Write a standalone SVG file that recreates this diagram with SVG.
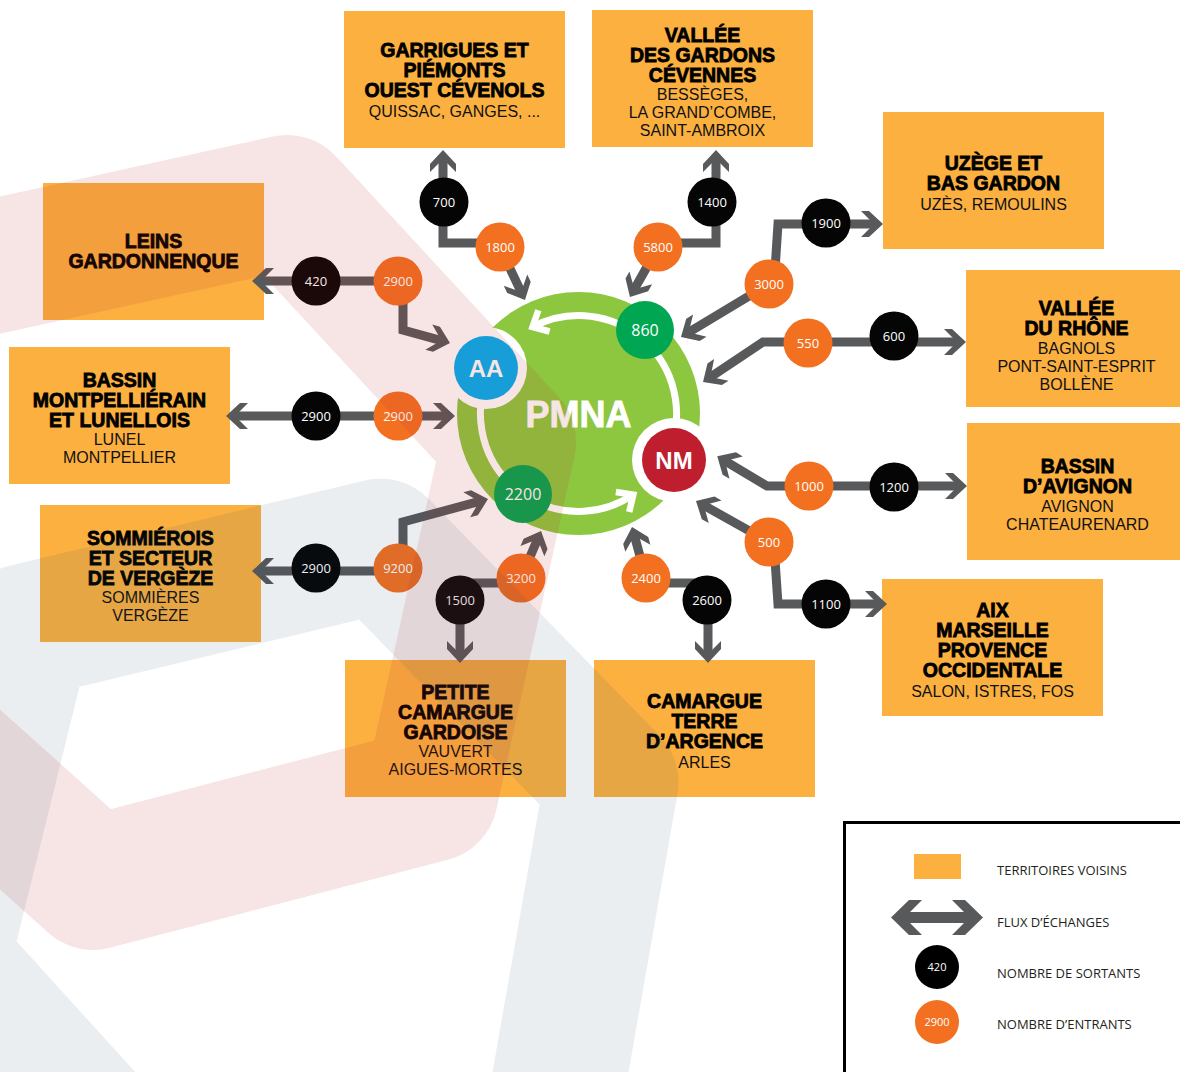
<svg xmlns="http://www.w3.org/2000/svg" width="1180" height="1072" viewBox="0 0 1180 1072">
<style>
.box{fill:#fbb040}
.t{font-family:"Liberation Sans",Arial,sans-serif;font-weight:700;font-size:19.5px;fill:#000;stroke:#000;stroke-width:0.8px;text-anchor:middle}
.s{font-family:"Liberation Sans",Arial,sans-serif;font-size:16px;fill:#111;text-anchor:middle}
.blk{fill:#050505}
.org{fill:#f37021}
.n{font-family:"Open Sans","Liberation Sans",sans-serif;font-size:13px;fill:#fff;text-anchor:middle}
.c{fill:none;stroke:#58595b;stroke-width:9}
.ring{fill:none;stroke:#fff;stroke-width:7}
.lg{font-family:"Open Sans","Liberation Sans",sans-serif;font-size:13px;fill:#231f20}
</style>
<defs>
<marker id="ah" markerUnits="userSpaceOnUse" orient="auto-start-reverse" refX="-6" refY="0" markerWidth="40" markerHeight="40" overflow="visible">
<path d="M0,0 L-14,-13 L-22,-13 L-9,0 L-22,13 L-14,13 Z" fill="#58595b"/>
</marker>
<marker id="wa" markerUnits="userSpaceOnUse" orient="auto" refX="0" refY="0" markerWidth="40" markerHeight="40" overflow="visible">
<path d="M-13,-12 L0,0 L-13,12" fill="none" stroke="#fff" stroke-width="6.5"/>
</marker>
</defs>
<rect x="0" y="0" width="1180" height="1072" fill="#fff"/>

<g id="garrigues"><rect class="box" x="344" y="11" width="221" height="137"/>
<text class="t" x="454.5" y="57">GARRIGUES ET</text><text class="t" x="454.5" y="77">PIÉMONTS</text><text class="t" x="454.5" y="97">OUEST CÉVENOLS</text><text class="s" x="454.5" y="117">QUISSAC, GANGES, ...</text></g>
<g id="gardons"><rect class="box" x="592" y="10" width="221" height="137"/>
<text class="t" x="702.5" y="42">VALLÉE</text><text class="t" x="702.5" y="62">DES GARDONS</text><text class="t" x="702.5" y="82">CÉVENNES</text><text class="s" x="702.5" y="100">BESSÈGES,</text><text class="s" x="702.5" y="118">LA GRAND’COMBE,</text><text class="s" x="702.5" y="136">SAINT-AMBROIX</text></g>
<g id="uzege"><rect class="box" x="883" y="112" width="221" height="137"/>
<text class="t" x="993.5" y="170">UZÈGE ET</text><text class="t" x="993.5" y="190">BAS GARDON</text><text class="s" x="993.5" y="210">UZÈS, REMOULINS</text></g>
<g id="rhone"><rect class="box" x="966" y="270" width="221" height="137"/>
<text class="t" x="1076.5" y="315">VALLÉE</text><text class="t" x="1076.5" y="335">DU RHÔNE</text><text class="s" x="1076.5" y="354">BAGNOLS</text><text class="s" x="1076.5" y="372">PONT-SAINT-ESPRIT</text><text class="s" x="1076.5" y="390">BOLLÈNE</text></g>
<g id="avignon"><rect class="box" x="967" y="423" width="221" height="137"/>
<text class="t" x="1077.5" y="473">BASSIN</text><text class="t" x="1077.5" y="493">D’AVIGNON</text><text class="s" x="1077.5" y="512">AVIGNON</text><text class="s" x="1077.5" y="530">CHATEAURENARD</text></g>
<g id="aix"><rect class="box" x="882" y="579" width="221" height="137"/>
<text class="t" x="992.5" y="617">AIX</text><text class="t" x="992.5" y="637">MARSEILLE</text><text class="t" x="992.5" y="657">PROVENCE</text><text class="t" x="992.5" y="677">OCCIDENTALE</text><text class="s" x="992.5" y="697">SALON, ISTRES, FOS</text></g>
<g id="terre"><rect class="box" x="594" y="660" width="221" height="137"/>
<text class="t" x="704.5" y="708">CAMARGUE</text><text class="t" x="704.5" y="728">TERRE</text><text class="t" x="704.5" y="748">D’ARGENCE</text><text class="s" x="704.5" y="768">ARLES</text></g>
<g id="petite"><rect class="box" x="345" y="660" width="221" height="137"/>
<text class="t" x="455.5" y="699">PETITE</text><text class="t" x="455.5" y="719">CAMARGUE</text><text class="t" x="455.5" y="739">GARDOISE</text><text class="s" x="455.5" y="757">VAUVERT</text><text class="s" x="455.5" y="775">AIGUES-MORTES</text></g>
<g id="sommierois"><rect class="box" x="40" y="505" width="221" height="137"/>
<text class="t" x="150.5" y="545">SOMMIÉROIS</text><text class="t" x="150.5" y="565">ET SECTEUR</text><text class="t" x="150.5" y="585">DE VERGÈZE</text><text class="s" x="150.5" y="603">SOMMIÈRES</text><text class="s" x="150.5" y="621">VERGÈZE</text></g>
<g id="montpellier"><rect class="box" x="9" y="347" width="221" height="137"/>
<text class="t" x="119.5" y="387">BASSIN</text><text class="t" x="119.5" y="407">MONTPELLIÉRAIN</text><text class="t" x="119.5" y="427">ET LUNELLOIS</text><text class="s" x="119.5" y="445">LUNEL</text><text class="s" x="119.5" y="463">MONTPELLIER</text></g>
<g id="leins"><rect class="box" x="43" y="183" width="221" height="137"/>
<text class="t" x="153.5" y="248">LEINS</text><text class="t" x="153.5" y="268">GARDONNENQUE</text></g>

<g id="connectors">
<path class="c" d="M398,281 H258" marker-end="url(#ah)"/>
<path class="c" d="M403,295 V330 L444.2,341.4" marker-end="url(#ah)"/>
<path class="c" d="M500,243 H443 V156" marker-end="url(#ah)"/>
<path class="c" d="M505,258 L522.4,294.6" marker-end="url(#ah)"/>
<path class="c" d="M658,243 H716 V156" marker-end="url(#ah)"/>
<path class="c" d="M652,258 L632.9,291.8" marker-end="url(#ah)"/>
<path class="c" d="M775,270 L778,224 H877" marker-end="url(#ah)"/>
<path class="c" d="M769,284 L686.1,333.9" marker-end="url(#ah)"/>
<path class="c" d="M808,342 H960" marker-end="url(#ah)"/>
<path class="c" d="M808,342 H763 L708,378.7" marker-end="url(#ah)"/>
<path class="c" d="M809,486 H961" marker-end="url(#ah)"/>
<path class="c" d="M809,486 H767 L722.4,459.4" marker-end="url(#ah)"/>
<path class="c" d="M775,560 L778,604 H881" marker-end="url(#ah)"/>
<path class="c" d="M769,542 L701.2,503.9" marker-end="url(#ah)"/>
<path class="c" d="M646,583 H708 V657" marker-end="url(#ah)"/>
<path class="c" d="M646,578 L633.6,532.8" marker-end="url(#ah)"/>
<path class="c" d="M521,583 H460 V657" marker-end="url(#ah)"/>
<path class="c" d="M521,578 L538.7,536.5" marker-end="url(#ah)"/>
<path class="c" d="M398,571 H258" marker-end="url(#ah)"/>
<path class="c" d="M403,560 V522 L482.2,500.6" marker-end="url(#ah)"/>
<path class="c" d="M232,416 H449" marker-start="url(#ah)" marker-end="url(#ah)"/>
</g>

<g id="pmna">
<circle cx="578.5" cy="413.5" r="121.5" fill="#8dc63f"/>
<path class="ring" d="M634.7,333.2 A98,98 0 0 0 532.5,327" marker-end="url(#wa)"/>
<path class="ring" d="M532.5,500 A98,98 0 0 0 633.3,494.7" marker-end="url(#wa)"/>
<path class="ring" d="M644.1,340.7 A98,98 0 0 1 669.4,450.2"/>
<path class="ring" d="M493.6,364.5 A98,98 0 0 0 515.5,488.6"/>
<text x="578.5" y="427" text-anchor="middle" font-family="Liberation Sans,Arial,sans-serif" font-weight="700" font-size="36" fill="#fff" stroke="#fff" stroke-width="0.8">PMNA</text>
</g>
<g id="aa"><circle cx="486" cy="368" r="41" fill="#fff"/><circle cx="486" cy="368" r="32" fill="#00aeef"/><text x="486" y="377" text-anchor="middle" font-family="Liberation Sans,Arial,sans-serif" font-weight="700" font-size="24" fill="#fff">AA</text></g>
<g id="nm"><circle cx="674" cy="460" r="42" fill="#fff"/><circle cx="674" cy="460" r="32" fill="#be1e2d"/><text x="674" y="469" text-anchor="middle" font-family="Liberation Sans,Arial,sans-serif" font-weight="700" font-size="24" fill="#fff">NM</text></g>
<g id="n860"><circle cx="645" cy="330" r="29" fill="#00a651"/><text x="645" y="335.5" text-anchor="middle" font-family="Open Sans,Liberation Sans,sans-serif" font-size="16" fill="#fff">860</text></g>
<g id="n2200"><circle cx="523" cy="494" r="29" fill="#00a651"/><text x="523" y="499.5" text-anchor="middle" font-family="Open Sans,Liberation Sans,sans-serif" font-size="16" fill="#fff">2200</text></g>

<g id="counts">
<g id="c700"><circle class="blk" cx="444" cy="202" r="24.5"/><text class="n" x="444" y="206.6">700</text></g>
<g id="c1800"><circle class="org" cx="500" cy="247" r="24.5"/><text class="n" x="500" y="251.6">1800</text></g>
<g id="c1400"><circle class="blk" cx="712" cy="202" r="24.5"/><text class="n" x="712" y="206.6">1400</text></g>
<g id="c5800"><circle class="org" cx="658" cy="247" r="24.5"/><text class="n" x="658" y="251.6">5800</text></g>
<g id="c420"><circle class="blk" cx="316" cy="281" r="24.5"/><text class="n" x="316" y="285.6">420</text></g>
<g id="c2900a"><circle class="org" cx="398" cy="281" r="24.5"/><text class="n" x="398" y="285.6">2900</text></g>
<g id="c1900"><circle class="blk" cx="826" cy="223" r="24.5"/><text class="n" x="826" y="227.6">1900</text></g>
<g id="c3000"><circle class="org" cx="769" cy="284" r="24.5"/><text class="n" x="769" y="288.6">3000</text></g>
<g id="c550"><circle class="org" cx="808" cy="343" r="24.5"/><text class="n" x="808" y="347.6">550</text></g>
<g id="c600"><circle class="blk" cx="894" cy="336" r="24.5"/><text class="n" x="894" y="340.6">600</text></g>
<g id="c2900b"><circle class="blk" cx="316" cy="416" r="24.5"/><text class="n" x="316" y="420.6">2900</text></g>
<g id="c2900c"><circle class="org" cx="398" cy="416" r="24.5"/><text class="n" x="398" y="420.6">2900</text></g>
<g id="c1000"><circle class="org" cx="809" cy="486" r="24.5"/><text class="n" x="809" y="490.6">1000</text></g>
<g id="c1200"><circle class="blk" cx="894" cy="487" r="24.5"/><text class="n" x="894" y="491.6">1200</text></g>
<g id="c500"><circle class="org" cx="769" cy="542" r="24.5"/><text class="n" x="769" y="546.6">500</text></g>
<g id="c1100"><circle class="blk" cx="826" cy="604" r="24.5"/><text class="n" x="826" y="608.6">1100</text></g>
<g id="c2900d"><circle class="blk" cx="316" cy="568" r="24.5"/><text class="n" x="316" y="572.6">2900</text></g>
<g id="c9200"><circle class="org" cx="398" cy="568" r="24.5"/><text class="n" x="398" y="572.6">9200</text></g>
<g id="c3200"><circle class="org" cx="521" cy="578" r="24.5"/><text class="n" x="521" y="582.6">3200</text></g>
<g id="c1500"><circle class="blk" cx="460" cy="600" r="24.5"/><text class="n" x="460" y="604.6">1500</text></g>
<g id="c2400"><circle class="org" cx="646" cy="578" r="24.5"/><text class="n" x="646" y="582.6">2400</text></g>
<g id="c2600"><circle class="blk" cx="707" cy="600" r="24.5"/><text class="n" x="707" y="604.6">2600</text></g>
</g>

<g id="watermark" fill="none" stroke-linejoin="round" stroke-width="134">
<path d="M-300,331 L287,202 L509,442 L431,795 L93,883 L-300,530 Z" stroke="#c1272d" stroke-opacity="0.12"/>
<path d="M538,1200 L611.5,782.3 L380.6,545.6 L24.2,631.2 L-57,960 L200,1243" stroke="#28466e" stroke-opacity="0.093"/>
</g>

<g id="legend">
<rect x="844.5" y="822.5" width="345" height="260" fill="#fff" stroke="#000" stroke-width="3"/>
<rect x="914" y="854" width="47" height="25" fill="#fbb040"/>
<text class="lg" x="997" y="875">TERRITOIRES VOISINS</text>
<path d="M891,917.5 L909,900 L922,900 L910,912 L964,912 L952,900 L965,900 L983,917.5 L965,935 L952,935 L964,923 L910,923 L922,935 L909,935 Z" fill="#58595b"/>
<text class="lg" x="997" y="927">FLUX D’ÉCHANGES</text>
<circle cx="937" cy="967" r="22" fill="#000"/><text x="937" y="971" text-anchor="middle" font-family="Open Sans,Liberation Sans,sans-serif" font-size="11" fill="#fff">420</text>
<text class="lg" x="997" y="978">NOMBRE DE SORTANTS</text>
<circle cx="937" cy="1022" r="22" fill="#f37021"/><text x="937" y="1026" text-anchor="middle" font-family="Open Sans,Liberation Sans,sans-serif" font-size="11" fill="#fff">2900</text>
<text class="lg" x="997" y="1029">NOMBRE D’ENTRANTS</text>
</g>
</svg>
